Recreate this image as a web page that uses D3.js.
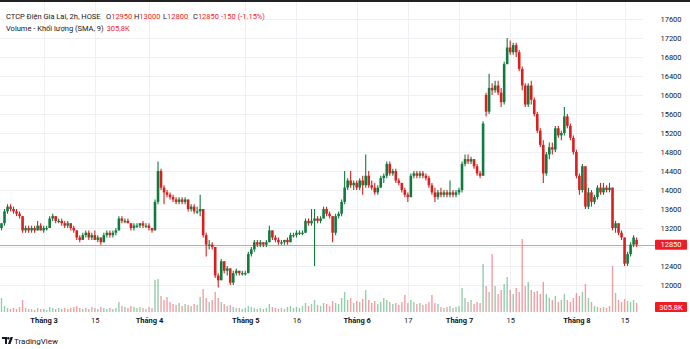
<!DOCTYPE html>
<html><head><meta charset="utf-8">
<script src="https://cdn.jsdelivr.net/npm/d3@7"></script>
<style>html,body{margin:0;padding:0;background:#fff;overflow:hidden}svg{display:block;font-family:Roboto,"Noto Sans",sans-serif}</style>
</head><body><svg id="c" width="690" height="349"></svg>
<script>
const opens=[13200,13300,13550,13650,13600,13550,13500,13450,13150,13200,13150,13200,13150,13250,13150,13200,13200,13400,13450,13350,13350,13300,13250,13300,13200,13150,13000,12950,13050,13100,13000,13050,12950,13000,12900,13050,13100,13050,13100,13150,13400,13350,13350,13300,13200,13250,13250,13300,13250,13250,13200,13150,13750,14400,14050,13950,13900,13850,13800,13750,13800,13750,13800,13600,13650,13550,13550,13600,13050,12850,12850,12800,12200,12100,12500,12300,12350,12050,12250,12300,12250,12250,12250,12650,12750,12900,12850,12900,12850,12900,13150,13000,12950,12900,12900,12950,12900,13050,13050,13100,13100,13100,13350,13300,13350,13400,13350,13400,13600,13500,13450,13100,13450,13500,13750,14050,14200,14100,14150,14050,14200,14100,14300,14100,14050,13950,14050,14250,14300,14550,14350,14400,14200,14150,14000,13900,13850,14300,14350,14300,14350,14300,14250,14100,13950,13850,13950,13900,13950,13900,13950,13900,13950,14000,14550,14650,14600,14650,14500,14350,14300,16000,15650,16150,16100,16200,16050,15850,16650,17000,16900,17050,16900,16550,16200,15800,16200,15900,15600,15250,14950,14350,14750,14900,14850,15300,15150,15200,15550,15350,15100,14800,14300,14000,14500,13650,13950,13750,13850,14050,13950,14050,14000,14050,13200,13300,13100,13000,12450,12650,12850,12950];
const highs=[13300,13600,13700,13700,13650,13600,13550,13450,13250,13250,13250,13250,13350,13300,13250,13250,13450,13500,13450,13400,13400,13350,13350,13300,13250,13150,13050,13100,13150,13150,13100,13150,13050,13000,13100,13150,13150,13150,13200,13450,13450,13400,13400,13300,13300,13300,13300,13350,13300,13300,13200,13800,14600,14450,14100,14000,13950,13900,13850,13850,13850,13850,13800,13700,13700,13650,13900,13600,13100,12950,12900,12800,12250,12550,12500,12400,12350,12300,12350,12300,12300,12300,12700,12800,12950,12950,12950,12900,12950,13250,13150,13050,13000,12950,12950,13000,13100,13100,13150,13150,13150,13400,13400,13600,13600,13450,13450,13650,13650,13550,13450,13500,13550,13800,14400,14250,14400,14200,14200,14250,14300,14750,14400,14200,14150,14100,14300,14350,14600,14600,14450,14450,14250,14150,14050,13950,14350,14400,14400,14400,14400,14350,14300,14150,14050,14000,14050,14000,14000,14200,14000,14000,14050,14600,14750,14750,14700,14650,14550,14400,15450,16050,16450,16250,16300,16300,16150,16700,17200,17150,17100,17100,16950,16600,16250,16250,16300,15950,15650,15300,15050,14800,15000,15000,15350,15350,15250,15750,15600,15400,15150,14850,14350,14550,14500,14050,14000,13900,14100,14150,14150,14100,14150,14050,13350,13300,13150,13000,12700,12900,13050,13000];
const lows=[13150,13250,13500,13550,13500,13450,13400,13100,13100,13100,13100,13100,13150,13150,13100,13150,13200,13350,13300,13300,13250,13200,13200,13150,13100,12950,12900,12950,13000,12950,12950,12950,12900,12850,12900,13000,13000,13000,13050,13150,13300,13300,13300,13150,13150,13200,13200,13200,13200,13150,13100,13150,13700,14000,13700,13850,13800,13750,13700,13700,13700,13700,13550,13550,13500,13500,13450,13000,12600,12750,12750,12150,11950,12100,12250,12200,12000,12000,12200,12200,12200,12200,12250,12600,12700,12800,12800,12800,12800,12900,12950,12900,12850,12850,12850,12850,12900,13000,13000,13050,13050,13100,13250,13250,12400,13300,13300,13400,13450,13400,12900,13050,13400,13450,13700,14000,14050,14000,14000,14000,13900,14050,14050,14000,13900,13900,14050,14150,14250,14300,14300,14150,14100,13950,13850,13750,13850,14250,14250,14250,14250,14200,14050,13900,13750,13800,13850,13850,13850,13850,13850,13850,13900,13950,14500,14550,14550,14450,14300,14250,14300,15550,15600,16000,16050,16000,15750,15800,16650,16850,16850,16800,16500,16100,15750,15750,15800,15550,15200,14900,14150,14300,14650,14750,14800,15100,15050,15150,15300,15050,14750,14250,13900,13950,13600,13600,13650,13700,13800,13900,13900,13950,13950,13150,13100,13050,12950,12400,12400,12600,12800,12800];
const closes=[13300,13550,13650,13600,13550,13500,13450,13150,13200,13150,13200,13150,13250,13150,13200,13200,13400,13450,13350,13350,13300,13250,13300,13200,13150,13000,12950,13050,13100,13000,13050,12950,13000,12900,13050,13100,13050,13100,13150,13400,13350,13350,13300,13200,13250,13250,13300,13250,13250,13200,13150,13750,14400,14050,13950,13900,13850,13800,13750,13800,13750,13800,13600,13650,13550,13550,13600,13050,12850,12850,12800,12200,12100,12500,12300,12350,12050,12250,12300,12250,12250,12250,12650,12750,12900,12850,12900,12850,12900,13150,13000,12950,12900,12900,12950,12900,13050,13050,13100,13100,13100,13350,13300,13350,13400,13350,13400,13600,13500,13450,13100,13450,13500,13750,14050,14200,14100,14150,14050,14200,14100,14300,14100,14050,13950,14050,14250,14300,14550,14350,14400,14200,14150,14000,13900,13850,14300,14350,14300,14350,14300,14250,14100,13950,13850,13950,13900,13950,13900,13950,13900,13950,14000,14550,14650,14600,14650,14500,14350,14300,15400,15650,16150,16100,16200,16050,15850,16650,17000,16900,17050,16900,16550,16200,15800,16200,15900,15600,15250,14950,14350,14750,14900,14850,15300,15150,15200,15550,15350,15100,14800,14300,14000,14500,13650,13950,13750,13850,14050,13950,14050,14000,14050,13200,13300,13100,13000,12450,12650,12850,13000,12850];
// volume in thousands of shares
const volumes=[840,360,240,180,240,180,300,720,240,180,180,120,240,180,180,120,300,240,180,240,180,240,180,240,300,360,240,180,240,180,300,240,180,300,240,180,240,180,240,600,360,300,240,360,300,240,300,240,180,300,240,1920,1980,960,720,900,600,480,420,540,360,480,420,360,480,420,900,1380,840,600,720,1200,840,600,480,360,420,300,240,240,180,240,360,300,240,180,240,180,240,480,300,240,180,240,180,300,360,240,300,240,360,540,360,480,720,420,360,540,480,360,660,540,480,840,1200,720,840,540,660,600,780,1320,720,540,660,480,600,840,720,600,480,540,420,600,1020,540,720,600,480,540,420,480,600,1020,540,480,300,240,300,360,240,300,360,1440,840,600,720,480,600,540,2880,1560,1200,3480,1560,1080,1320,1680,2100,1320,1080,1440,1200,4380,1560,1800,1320,1200,1260,1080,1800,1080,840,720,960,600,720,1080,720,600,840,1140,960,1200,1680,840,600,360,300,240,300,240,360,2760,1140,720,600,780,660,600,720,540];
const priceTicks=[12000,12400,12800,13200,13600,14000,14400,14800,15200,15600,16000,16400,16800,17200,17600];
const timeTickIndex=[14,31,49,81,98,118,135,152,169,191,207];
const timeTickLabels=["Tháng 3","15","Tháng 4","Tháng 5","16","Tháng 6","17","Tháng 7","15","Tháng 8","15"];
const lastPrice=12850, volSMA=305.8;

const N=closes.length;
const svg=d3.select("#c");
const paneRight=643;
const x=d3.scaleLinear().domain([0,N-1]).range([1.5,636.6]);
const y=d3.scaleLinear().domain([12000,17600]).range([285,19]);
const yv=d3.scaleLinear().domain([0,4380]).range([312,239]);
const UP="#137a3f", DOWN="#d8201f";
const VUP="rgba(40,160,90,0.5)", VDOWN="rgba(235,60,75,0.5)";
const isUp=i=>closes[i]>=opens[i];

svg.append("rect").attr("width",690).attr("height",349).attr("fill","#fff");
// grid
const g=svg.append("g");
g.selectAll("line.h").data(priceTicks).join("line")
 .attr("x1",0).attr("x2",paneRight).attr("y1",d=>Math.round(y(d))+0.5).attr("y2",d=>Math.round(y(d))+0.5)
 .attr("stroke","#eef0f4").attr("stroke-width",1);
g.selectAll("line.v").data(timeTickIndex).join("line")
 .attr("y1",0).attr("y2",313).attr("x1",d=>Math.round(x(d))+0.5).attr("x2",d=>Math.round(x(d))+0.5)
 .attr("stroke","#eef0f4").attr("stroke-width",1);

// volume bars
const idx=d3.range(N);
svg.append("g").selectAll("rect").data(idx).join("rect")
 .attr("x",i=>x(i)-0.7).attr("width",1.4)
 .attr("y",i=>yv(volumes[i])).attr("height",i=>yv(0)-yv(volumes[i]))
 .attr("fill",i=>isUp(i)?VUP:VDOWN);

// last price line
svg.append("line").attr("x1",0).attr("x2",655).attr("y1",Math.round(y(lastPrice))+0.5).attr("y2",Math.round(y(lastPrice))+0.5)
 .attr("stroke","#f19098").attr("stroke-width",1);

// candles
const cg=svg.append("g");
cg.selectAll("line").data(idx).join("line")
 .attr("x1",i=>x(i)).attr("x2",i=>x(i)).attr("y1",i=>y(highs[i])).attr("y2",i=>y(lows[i]))
 .attr("stroke",i=>isUp(i)?UP:DOWN).attr("stroke-width",1.1);
cg.selectAll("rect").data(idx).join("rect")
 .attr("x",i=>x(i)-1.3).attr("width",2.6)
 .attr("y",i=>y(Math.max(opens[i],closes[i])))
 .attr("height",i=>Math.max(1.2,Math.abs(y(opens[i])-y(closes[i]))))
 .attr("fill",i=>isUp(i)?UP:DOWN);

// price axis (ticks hidden where the last-price label sits)
const shownTicks=priceTicks.filter(t=>Math.abs(y(t)-y(lastPrice))>9);
const ya=svg.append("g").attr("transform","translate(660,0)")
 .call(d3.axisRight(y).tickValues(shownTicks).tickSize(0).tickPadding(0).tickFormat(d3.format("d")));
ya.select(".domain").remove();
ya.selectAll("text").attr("x",11).attr("text-anchor","middle").attr("fill","#131722")
 .style("font-size","7.5px").style("font-family","Roboto,sans-serif");

// time axis
const xa=svg.append("g").attr("transform","translate(0,318)")
 .call(d3.axisBottom(x).tickValues(timeTickIndex).tickSize(0).tickPadding(0).tickFormat((d,i)=>timeTickLabels[i]));
xa.select(".domain").remove();
xa.selectAll("text").attr("y",0).attr("dy","0.71em").attr("fill","#131722")
 .style("font-size","7.5px").style("font-family","Roboto,sans-serif")
 .style("font-weight",(d,i)=>timeTickLabels[i].startsWith("Tháng")?"700":"400");

// price label boxes
function box(yc,txt){
  svg.append("rect").attr("x",655).attr("y",yc-5).attr("width",32).attr("height",10).attr("fill","#ee1c25").attr("rx",1);
  svg.append("text").attr("x",671).attr("y",yc).attr("dy","0.35em").attr("text-anchor","middle")
   .attr("fill","#fff").style("font-size","7.5px").text(txt);
}
box(y(lastPrice),d3.format("d")(lastPrice));
box(yv(volSMA),volSMA+"K");

// legend
const lg=svg.append("g").style("font-size","7.5px");
lg.append("text").attr("x",6).attr("y",19).attr("fill","#131722").text("CTCP Điện Gia Lai, 2h, HOSE");
const o=opens[N-1],h=highs[N-1],l=lows[N-1],c=closes[N-1],pc=closes[N-2];
const parts=[["O",o,106],["H",h,134],["L",l,163],["C",c,193]];
parts.forEach(p=>{
  const t=lg.append("text").attr("x",p[2]).attr("y",19);
  t.append("tspan").attr("fill","#131722").text(p[0]);
  t.append("tspan").attr("fill","#ee1c25").text(p[1]);
});
const chg=c-pc;
lg.append("text").attr("x",221).attr("y",19).attr("fill","#ee1c25")
 .text(`${chg} (${(chg/pc*100).toFixed(2)}%)`);
const vt=lg.append("text").attr("x",6).attr("y",31).attr("fill","#131722").text("Volume - Khối lượng (SMA, 9)");
const vw=vt.node().getComputedTextLength();
lg.append("text").attr("x",6+vw+3).attr("y",31).attr("fill","#ee1c25").text(String(volSMA).replace(".",",")+"K");

// top border
svg.append("rect").attr("x",0).attr("y",0).attr("width",690).attr("height",2).attr("fill","#222");

// TradingView logo
const tv=svg.append("g").attr("transform","translate(2,337)");
tv.append("path").attr("d","M0 0H5V7H3V2H0Z M6 7L8.5 0H11L8.5 7Z").attr("fill","#131722");
tv.append("circle").attr("cx",6.3).attr("cy",1.2).attr("r",1.2).attr("fill","#131722");
svg.append("text").attr("x",14).attr("y",344).attr("fill","#131722").style("font-size","8px").text("TradingView");
</script></body></html>
